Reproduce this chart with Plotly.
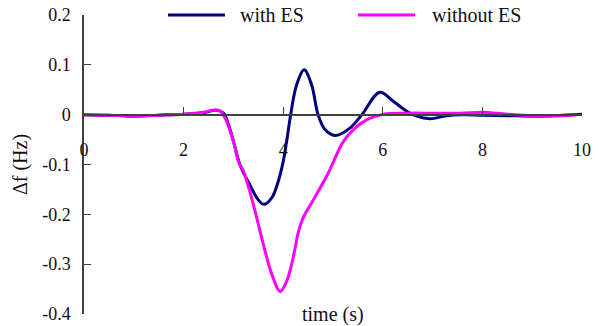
import plotly.graph_objects as go

# with ES
t_with = [0, 0.5, 1.0, 1.5, 2.0, 2.4, 2.65, 2.8, 2.9, 3.0, 3.13, 3.33, 3.5, 3.61, 3.77, 3.9, 4.0,
          4.07, 4.15, 4.27, 4.42, 4.57, 4.70, 4.84, 5.04, 5.34, 5.58, 5.94, 6.21, 6.48, 6.68, 6.95,
          7.28, 7.6, 8.0, 8.5, 9.16, 9.6, 10.0]
f_with = [0, -0.001, -0.003, -0.001, 0.001, 0.004, 0.009, 0.003, -0.02, -0.053, -0.1, -0.141, -0.171,
          -0.18, -0.167, -0.134, -0.094, -0.053, 0.0, 0.06, 0.09, 0.06, 0.0, -0.03, -0.042, -0.027,
          0.0, 0.045, 0.027, 0.007, -0.003, -0.008, -0.002, 0.0, -0.001, -0.002, -0.003, -0.001, 0.001]

# without ES
t_without = [0, 0.5, 1.0, 1.5, 2.0, 2.4, 2.6, 2.72, 2.83, 3.0, 3.1, 3.2, 3.4, 3.6, 3.77, 3.94,
             4.07, 4.17, 4.24, 4.30, 4.40, 4.6, 4.9, 5.2, 5.41, 5.68, 6.01, 6.48, 7.0, 7.56, 8.0,
             8.5, 9.16, 9.9]
f_without = [0, -0.001, -0.003, -0.001, 0.001, 0.005, 0.009, 0.008, -0.006, -0.053, -0.094, -0.113,
             -0.18, -0.26, -0.32, -0.355, -0.334, -0.30, -0.267, -0.237, -0.207, -0.172, -0.118,
             -0.055, -0.03, -0.01, 0.001, 0.003, 0.003, 0.003, 0.005, 0.001, -0.003, 0.0]

series_names = ["with ES", "without ES"]
series_colors = ["#00007f", "#ff00ff"]

x_tickvals = [0, 2, 4, 6, 8, 10]
x_ticktext = ["0", "2", "4", "6", "8", "10"]
y_tickvals = [0.2, 0.1, 0, -0.1, -0.2, -0.3, -0.4]
y_ticktext = ["0.2", "0.1", "0", "-0.1", "-0.2", "-0.3", "-0.4"]

FONT = "Liberation Serif"
AX = "#404040"

fig = go.Figure()
fig.add_trace(go.Scatter(x=t_with, y=f_with, mode="lines", name=series_names[0],
                         line=dict(color=series_colors[0], width=3, shape="spline", smoothing=1.0),
                         showlegend=False))
fig.add_trace(go.Scatter(x=t_without, y=f_without, mode="lines", name=series_names[1],
                         line=dict(color=series_colors[1], width=3, shape="spline", smoothing=1.0),
                         showlegend=False))

# custom legend
leg_items = [(0.1687, 0.283, 0.309), (0.550, 0.665, 0.695)]
for (x0, x1, xt), name, col in zip(leg_items, series_names, series_colors):
    fig.add_shape(type="line", xref="paper", yref="paper", x0=x0, x1=x1, y0=1.0, y1=1.0,
                  line=dict(color=col, width=3))
    fig.add_annotation(xref="paper", yref="paper", x=xt, y=1.0, text=name, showarrow=False,
                       xanchor="left", yanchor="middle", font=dict(family=FONT, size=20, color="#111"))

fig.add_annotation(xref="paper", yref="paper", x=0.5, y=0.0, text="time (s)", showarrow=False,
                   xanchor="center", yanchor="middle", font=dict(family=FONT, size=20, color="#111"))

fig.update_layout(
    width=599, height=326,
    margin=dict(l=84, r=17, t=15, b=12),
    paper_bgcolor="white", plot_bgcolor="white",
    font=dict(family=FONT, size=18, color="#111"),
    xaxis=dict(range=[0, 10], tickvals=x_tickvals, ticktext=x_ticktext, automargin=False,
               anchor="free", position=0.4 / 0.6, showline=True, linecolor=AX, linewidth=1.5,
               ticks="inside", ticklen=7, tickcolor=AX, tickwidth=1.2,
               showgrid=False, zeroline=False, ticklabelstandoff=19,
               tickfont=dict(family=FONT, size=18, color="#111")),
    yaxis=dict(range=[-0.4, 0.2], tickvals=y_tickvals, ticktext=y_ticktext, automargin=False,
               showline=True, linecolor=AX, linewidth=1.5,
               ticks="inside", ticklen=7, tickcolor=AX, tickwidth=1.2,
               showgrid=False, zeroline=False, ticklabelstandoff=8,
               title=dict(text="Δf (Hz)", font=dict(family=FONT, size=20, color="#111"), standoff=9),
               tickfont=dict(family=FONT, size=18, color="#111")),
)

fig.write_html("out.html")
